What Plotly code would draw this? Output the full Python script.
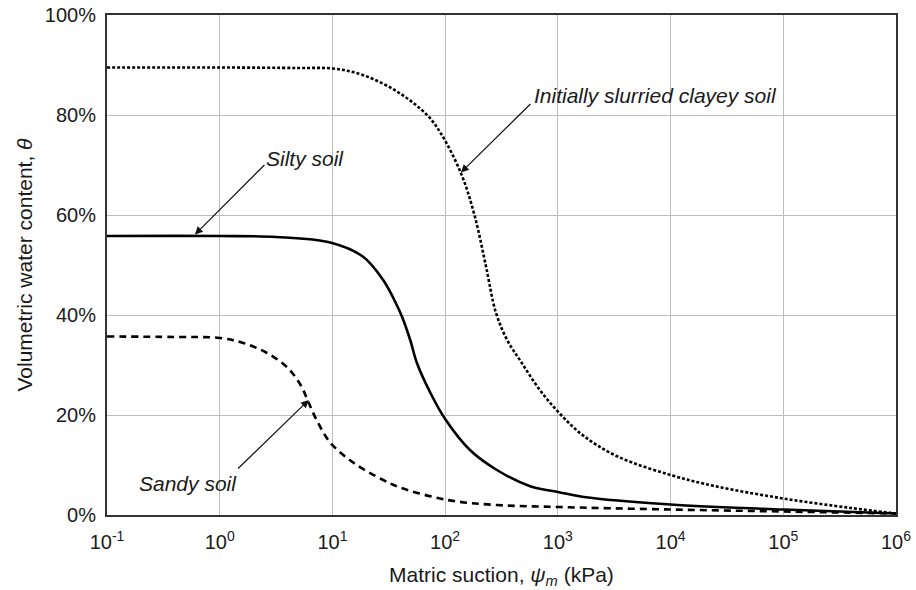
import plotly.graph_objects as go

# ---- data ----
# suction values in kPa, volumetric water content in %
clay_psi = [0.1, 1, 5, 10, 18.6, 38, 69.2, 91.2, 138, 182, 229, 282, 355, 479, 692, 1047, 1698, 3388, 10000, 25700, 100000, 398000, 1000000]
clay_theta = [89.5, 89.5, 89.4, 89.3, 88.0, 84.6, 80.0, 76.4, 68.4, 60.0, 50.0, 40.5, 35.0, 30.4, 25.0, 20.2, 15.8, 11.7, 8.0, 5.7, 3.3, 1.4, 0.3]

silt_psi = [0.1, 1, 3.16, 9.55, 18.6, 28.2, 36.3, 41.7, 49, 56.2, 74.1, 100, 166, 288, 575, 1000, 1698, 10000, 100000, 1000000]
silt_theta = [55.8, 55.8, 55.6, 54.5, 51.7, 47.0, 42.5, 39.5, 35.0, 30.4, 24.4, 19.2, 13.0, 9.0, 5.7, 4.6, 3.6, 2.1, 1.1, 0.3]

sand_psi = [0.1, 0.4, 1, 1.62, 2.63, 3.98, 5.25, 6.17, 7.24, 9.55, 15.5, 28.2, 39.8, 105, 288, 1000, 10000, 100000, 1000000]
sand_theta = [35.7, 35.6, 35.4, 34.4, 32.4, 29.5, 25.9, 22.4, 19.0, 14.5, 10.4, 7.0, 5.5, 3.0, 2.0, 1.6, 1.1, 0.7, 0.3]

x_tickvals = [0.1, 1, 10, 100, 1000, 10000, 100000, 1000000]
x_ticktext = ["10<sup>-1</sup>", "10<sup>0</sup>", "10<sup>1</sup>", "10<sup>2</sup>",
              "10<sup>3</sup>", "10<sup>4</sup>", "10<sup>5</sup>", "10<sup>6</sup>"]
y_tickvals = [0, 20, 40, 60, 80, 100]
y_ticktext = ["0%", "20%", "40%", "60%", "80%", "100%"]

# labels: text, text centre (log10 psi, theta), arrow tail (log10 psi, theta), arrow tip (log10 psi, theta)
labels = [
    ("Silty soil", (0.76, 71.4), (0.41, 70.3), (-0.22, 56.1)),
    ("Initially slurried clayey soil", (3.87, 84.0), (2.77, 82.5), (2.14, 68.5)),
    ("Sandy soil", (-0.28, 6.4), (0.15, 9.0), (0.79, 23.0)),
]

FONT = "Liberation Sans, Arial, sans-serif"
TXT = "#1a1a1a"

fig = go.Figure()
fig.add_trace(go.Scatter(x=clay_psi, y=clay_theta, mode="lines",
                         line=dict(color="black", width=2.6, dash="3px,2px", shape="spline", smoothing=1.0)))
fig.add_trace(go.Scatter(x=silt_psi, y=silt_theta, mode="lines",
                         line=dict(color="black", width=2.6, shape="spline", smoothing=1.0)))
fig.add_trace(go.Scatter(x=sand_psi, y=sand_theta, mode="lines",
                         line=dict(color="black", width=2.6, dash="7px,5px", shape="spline", smoothing=1.0)))

for text, tpos, tail, tip in labels:
    fig.add_annotation(x=tpos[0], y=tpos[1], text="<i>" + text + "</i>", showarrow=False,
                       font=dict(family=FONT, size=21, color=TXT), xref="x", yref="y")
    fig.add_annotation(x=tip[0], y=tip[1], ax=tail[0], ay=tail[1],
                       xref="x", yref="y", axref="x", ayref="y", text="", showarrow=True,
                       arrowhead=2, arrowsize=1.3, arrowwidth=1.2, arrowcolor="#111")

fig.update_xaxes(type="log", range=[-1, 6], tickvals=x_tickvals, ticktext=x_ticktext,
                 showgrid=True, gridcolor="#bdbdbd", gridwidth=1,
                 showline=True, linecolor="#333", linewidth=2, mirror=True, automargin=False,
                 ticks="", ticklabelstandoff=8, tickfont=dict(family=FONT, size=20, color=TXT),
                 title=dict(text="Matric suction, <i>ψ<sub>m</sub></i> (kPa)",
                            font=dict(family=FONT, size=21, color=TXT), standoff=15),
                 zeroline=False)
fig.update_yaxes(range=[0, 100], tickvals=y_tickvals, ticktext=y_ticktext,
                 showgrid=True, gridcolor="#bdbdbd", gridwidth=1,
                 showline=True, linecolor="#333", linewidth=2, mirror=True, automargin=False,
                 ticks="", ticklabelstandoff=5, tickfont=dict(family=FONT, size=20, color=TXT),
                 title=dict(text="Volumetric water content, <i>θ</i>",
                            font=dict(family=FONT, size=21, color=TXT), standoff=6),
                 zeroline=False)
fig.update_layout(width=916, height=590, margin=dict(l=107, r=20, t=15, b=75),
                  plot_bgcolor="white", paper_bgcolor="white", showlegend=False)
fig.write_html("out.html")
